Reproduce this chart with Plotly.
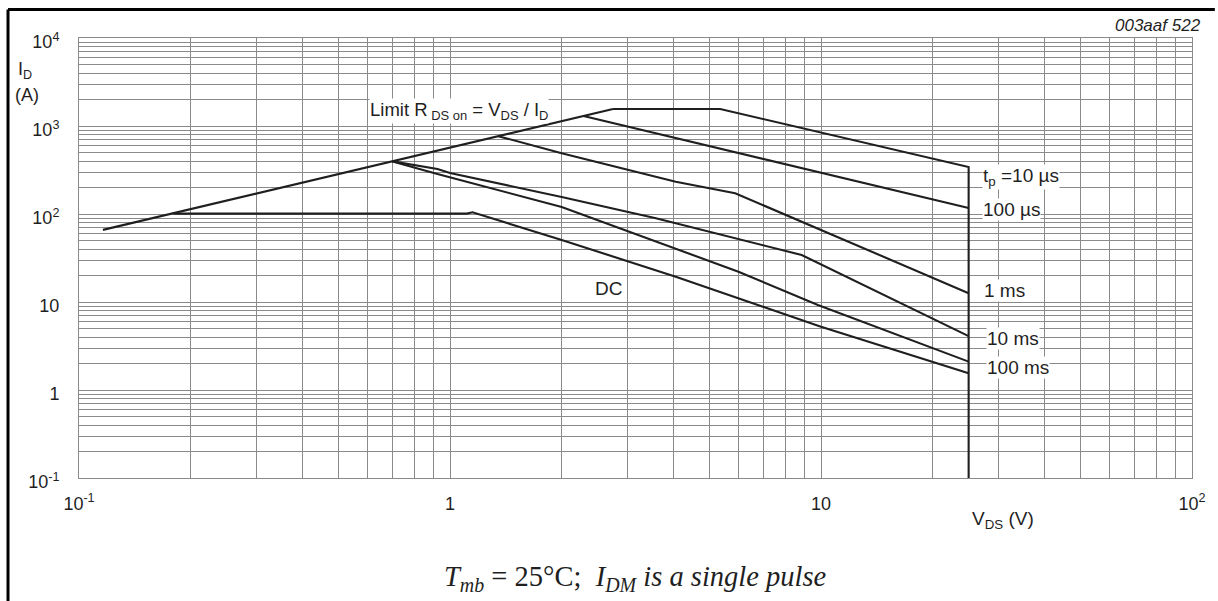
import math
import plotly.graph_objects as go

# ---------------- data ----------------
limit_v = [0.116, 2.75]
limit_i = [66, 1560]

tp10us_v = [2.75, 5.35, 25, 25]
tp10us_i = [1560, 1560, 342, 0.1]

tp100us_v = [2.29, 25]
tp100us_i = [1300, 117]

tp1ms_v = [1.35, 2.0, 4.06, 5.87, 25]
tp1ms_i = [767, 490, 233, 172, 12.6]

tp10ms_v = [0.70, 0.925, 1.0, 2.0, 3.59, 8.87, 25]
tp10ms_i = [396, 324, 292, 156, 89.4, 34.2, 4.1]

tp100ms_v = [0.70, 0.925, 2.0, 3.59, 5.99, 9.81, 25]
tp100ms_i = [396, 285, 120, 48.4, 22.1, 9.25, 2.1]

dc_v = [0.18, 1.11, 1.15, 1.26, 2.0, 4.06, 10.0, 25]
dc_i = [101, 101, 104.5, 93, 50.6, 19.4, 5.24, 1.55]

x_decades = [0.1, 1, 10, 100]
x_decade_labels = ["10<sup>-1</sup>", "1", "10", "10<sup>2</sup>"]
y_decades = [0.1, 1, 10, 100, 1000, 10000]
y_decade_labels = ["10<sup>-1</sup>", "1", "10", "10<sup>2</sup>", "10<sup>3</sup>", "10<sup>4</sup>"]

# ---------------- layout geometry ----------------
W, H = 1218, 601
L, R, T, B = 79, 18, 38, 123
PW, PH = W - L - R, H - T - B


def P(px, py):
    return (px - L) / PW, (H - B - py) / PH


def grid_vals(decades, labels):
    vals, texts = [], []
    for d, lab in zip(decades, labels):
        vals.append(d)
        texts.append(lab)
        if d != decades[-1]:
            for k in range(2, 10):
                vals.append(k * d)
                texts.append("")
    return vals, texts


xv, xt = grid_vals(x_decades, x_decade_labels)
yv, yt = grid_vals(y_decades, y_decade_labels)

FONT = "Liberation Sans, Arial, sans-serif"
INK = "#1f1f1f"
GRID = "#8a8a8a"

fig = go.Figure()
line_style = dict(color=INK, width=2.1)
for v, i in [(limit_v, limit_i), (tp10us_v, tp10us_i), (tp100us_v, tp100us_i),
             (tp1ms_v, tp1ms_i), (tp10ms_v, tp10ms_i), (tp100ms_v, tp100ms_i),
             (dc_v, dc_i)]:
    fig.add_trace(go.Scatter(x=v, y=i, mode="lines", line=line_style,
                             showlegend=False, hoverinfo="skip"))

fig.update_xaxes(type="log", range=[-1, 2], tickmode="array", tickvals=xv, ticktext=xt,
                 showgrid=True, gridcolor=GRID, gridwidth=1, zeroline=False,
                 showline=True, linecolor=GRID, linewidth=1, mirror=True,
                 ticks="", ticklabelstandoff=9,
                 tickfont=dict(family=FONT, size=18, color=INK))
fig.update_yaxes(type="log", range=[-1, 4], tickmode="array", tickvals=yv, ticktext=yt,
                 showgrid=True, gridcolor=GRID, gridwidth=1, zeroline=False,
                 showline=True, linecolor=GRID, linewidth=1, mirror=True,
                 ticks="", ticklabelstandoff=15, ticklabelshift=4,
                 tickfont=dict(family=FONT, size=18, color=INK))

ann = []


def add_text(text, px, py, xanchor="left", size=16, bg=None, family=FONT, yanchor="middle"):
    x, y = P(px, py)
    d = dict(text=text, x=x, y=y, xref="paper", yref="paper", showarrow=False,
             xanchor=xanchor, yanchor=yanchor, font=dict(family=family, size=size, color=INK))
    if bg:
        d.update(bgcolor=bg, borderpad=0)
    ann.append(d)


add_text("Limit R<sub> DS on</sub> = V<sub>DS</sub> / I<sub>D</sub>", 371, 111, size=18.5, bg="white")
add_text("t<sub>p</sub> =10 µs", 988, 177, size=19, bg="white")
add_text("100 µs", 988, 210, size=19, bg="white")
add_text("1 ms", 989, 290, size=19, bg="white")
add_text("10 ms", 993, 338, size=19, bg="white")
add_text("100 ms", 993, 367, size=19, bg="white")
add_text("DC", 612, 288, xanchor="center", size=19, bg="white")
add_text("<i>003aaf 522</i>", 1211, 25, xanchor="right", size=17)
add_text("I<sub>D</sub>", 16, 70, size=18)
add_text("(A)", 13, 95, size=18)
add_text("V<sub>DS</sub> (V)", 1010, 520, xanchor="center", size=19)
add_text("<i>T</i><sub><i>mb</i></sub> = 25°C;  <i>I</i><sub><i>DM</i></sub><i> is a single pulse</i>",
         640, 578, xanchor="center", size=28.5, family="Liberation Serif, DejaVu Serif, serif")

fig.update_layout(annotations=ann)

# outer frame (left + top black border)
xl, yt0 = P(7.5, 9.5)
xr, yb = P(W + 5, H + 5)
fig.add_shape(type="line", xref="paper", yref="paper", x0=xl, x1=xl, y0=yb, y1=yt0,
              line=dict(color="black", width=3))
fig.add_shape(type="line", xref="paper", yref="paper", x0=xl, x1=xr, y0=yt0, y1=yt0,
              line=dict(color="black", width=3))

fig.update_layout(width=W, height=H, margin=dict(l=L, r=R, t=T, b=B),
                  paper_bgcolor="white", plot_bgcolor="white")

fig.write_html("out.html")
